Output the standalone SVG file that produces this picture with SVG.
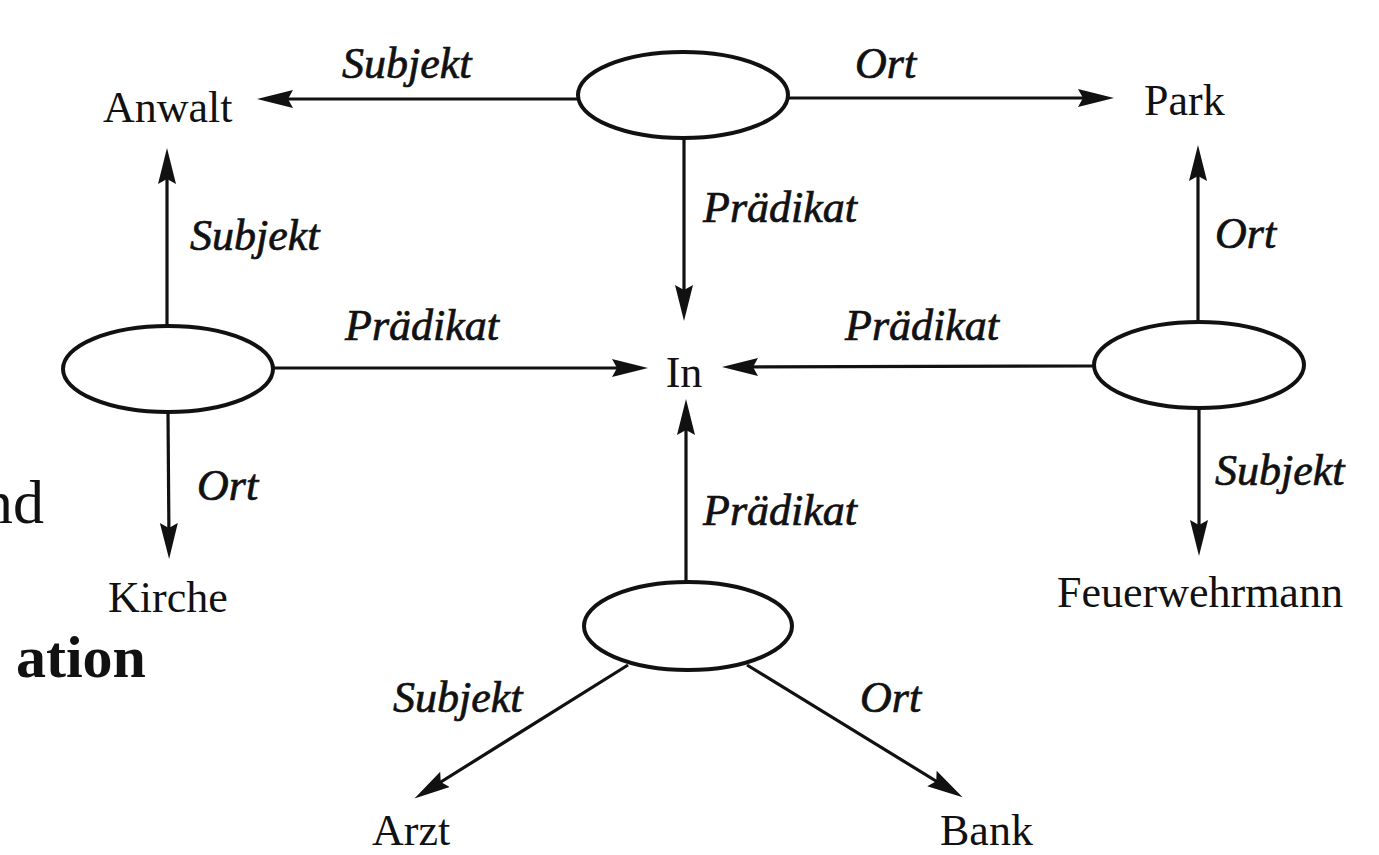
<svg xmlns="http://www.w3.org/2000/svg" width="1379" height="855" viewBox="0 0 1379 855">
<style>
.n{font-family:"Liberation Serif","Times New Roman",serif;font-size:44px;fill:#111}
.l{font-family:"Liberation Serif","Times New Roman",serif;font-size:44px;font-style:italic;fill:#111;stroke:#111;stroke-width:0.7}
.e{fill:#fff;stroke:#111;stroke-width:4}
.c line{stroke:#111;stroke-width:3.2}
</style>
<defs>
<marker id="ah" markerUnits="userSpaceOnUse" markerWidth="40" markerHeight="22" refX="20" refY="10" orient="auto">
<path d="M0,1 L36,10 L0,19 L5,10 z" fill="#111"/>
</marker>
</defs>
<rect width="1379" height="855" fill="#fff"/>
<g id="side-text">
<text x="44" y="523" text-anchor="end" font-family="Liberation Serif,serif" font-size="62" fill="#111">nd</text>
<text x="146" y="677" text-anchor="end" font-family="Liberation Serif,serif" font-size="60" font-weight="bold" fill="#111">ation</text>
</g>
<g id="connectors" class="c">
<line x1="578" y1="99" x2="273" y2="99" marker-end="url(#ah)"/>
<line x1="788" y1="98" x2="1098" y2="98" marker-end="url(#ah)"/>
<line x1="684" y1="138" x2="684" y2="305" marker-end="url(#ah)"/>
<line x1="273" y1="368" x2="632" y2="368" marker-end="url(#ah)"/>
<line x1="1094" y1="366" x2="738" y2="367" marker-end="url(#ah)"/>
<line x1="686" y1="582" x2="686" y2="415" marker-end="url(#ah)"/>
<line x1="167" y1="326" x2="167" y2="164" marker-end="url(#ah)"/>
<line x1="168" y1="412" x2="169" y2="543" marker-end="url(#ah)"/>
<line x1="1198" y1="321" x2="1198" y2="161" marker-end="url(#ah)"/>
<line x1="1199" y1="408" x2="1199" y2="540" marker-end="url(#ah)"/>
<line x1="628" y1="665" x2="428" y2="790" marker-end="url(#ah)"/>
<line x1="747" y1="665" x2="949" y2="789" marker-end="url(#ah)"/>
</g>
<g id="labels">
<text class="l" x="342" y="78">Subjekt</text>
<text class="l" x="855" y="78">Ort</text>
<text class="l" x="703" y="222">Prädikat</text>
<text class="l" x="190" y="250">Subjekt</text>
<text class="l" x="1215" y="248">Ort</text>
<text class="l" x="345" y="340">Prädikat</text>
<text class="l" x="845" y="340">Prädikat</text>
<text class="l" x="197" y="500">Ort</text>
<text class="l" x="1215" y="485">Subjekt</text>
<text class="l" x="703" y="525">Prädikat</text>
<text class="l" x="393" y="712">Subjekt</text>
<text class="l" x="860" y="712">Ort</text>
</g>
<g id="e-top"><ellipse class="e" cx="683" cy="95" rx="105" ry="43"/></g>
<g id="e-left"><ellipse class="e" cx="168" cy="369" rx="105" ry="43"/></g>
<g id="e-right"><ellipse class="e" cx="1199" cy="365" rx="105" ry="43"/></g>
<g id="e-bottom"><ellipse class="e" cx="688" cy="626" rx="104" ry="44"/></g>
<g id="anwalt"><text class="n" x="103" y="122">Anwalt</text></g>
<g id="park"><text class="n" x="1144" y="115">Park</text></g>
<g id="in"><text class="n" x="684" y="387" text-anchor="middle">In</text></g>
<g id="kirche"><text class="n" x="108" y="612">Kirche</text></g>
<g id="feuerwehrmann"><text class="n" x="1057" y="607">Feuerwehrmann</text></g>
<g id="arzt"><text class="n" x="372" y="845">Arzt</text></g>
<g id="bank"><text class="n" x="940" y="845">Bank</text></g>
</svg>
